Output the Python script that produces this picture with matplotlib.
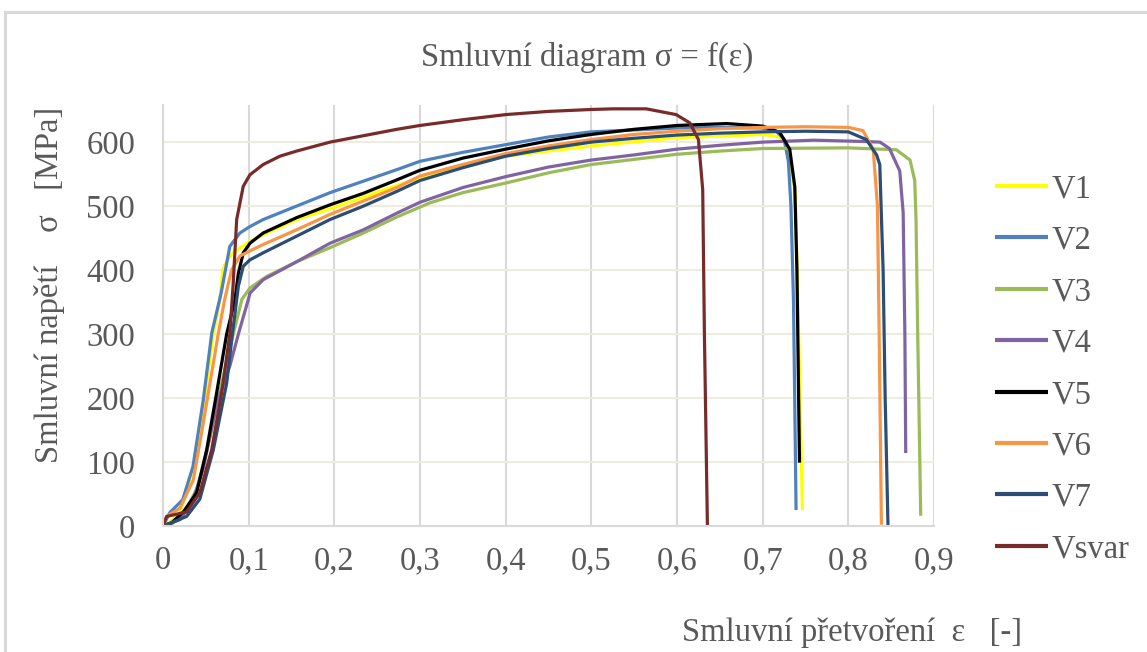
import matplotlib
matplotlib.use("Agg")
import matplotlib.pyplot as plt
from matplotlib.patches import Rectangle
from matplotlib.ticker import FuncFormatter

plt.rcParams['font.family'] = ['Liberation Serif', 'DejaVu Serif']

labels = ["V1", "V2", "V3", "V4", "V5", "V6", "V7", "Vsvar"]
colors = ["#FFFF00", "#4F81BD", "#9BBB59", "#8064A2", "#000000", "#F79646", "#2C4D75", "#772C2A"]

v1_eps = [0, 0.01, 0.02, 0.0354, 0.045, 0.051, 0.0587, 0.0665, 0.0697, 0.076, 0.082, 0.1015, 0.121, 0.156, 0.2, 0.234, 0.25, 0.3, 0.35, 0.4, 0.45, 0.5, 0.6, 0.7, 0.72, 0.73, 0.738, 0.742, 0.7464]
v1_sig = [0, 8, 20, 93, 156, 223, 300, 354, 400, 418, 427, 445, 458, 479, 498, 514, 522, 544, 562, 578, 586, 594, 607, 612, 608, 590, 520, 300, 25]

v2_eps = [0, 0.008, 0.023, 0.035, 0.047, 0.057, 0.068, 0.078, 0.0898, 0.1015, 0.117, 0.156, 0.195, 0.234, 0.273, 0.3, 0.35, 0.4, 0.45, 0.5, 0.55, 0.6, 0.65, 0.7, 0.715, 0.725, 0.73, 0.733, 0.736, 0.739]
v2_sig = [0, 21, 41, 93, 197, 302, 365, 437, 458, 468, 479, 500, 521, 539, 557, 570, 584, 596, 608, 616, 619, 622, 623, 622, 618, 605, 570, 500, 350, 25]

v3_eps = [0, 0.01, 0.025, 0.04, 0.055, 0.068, 0.082, 0.092, 0.1015, 0.121, 0.156, 0.195, 0.234, 0.273, 0.3115, 0.35, 0.4, 0.45, 0.5, 0.55, 0.6, 0.65, 0.7, 0.8, 0.856, 0.872, 0.8775, 0.879, 0.881, 0.8845]
v3_sig = [0, 3, 20, 60, 140, 220, 300, 354, 372, 390, 413, 435, 458, 483, 505, 521, 536, 552, 565, 573, 581, 586, 590, 591, 588, 572, 540, 480, 300, 16]

v4_eps = [0, 0.02, 0.035, 0.047, 0.0626, 0.078, 0.088, 0.0996, 0.1015, 0.117, 0.156, 0.195, 0.234, 0.273, 0.3, 0.35, 0.4, 0.45, 0.5, 0.55, 0.6, 0.65, 0.7, 0.76, 0.817, 0.837, 0.848, 0.86, 0.864, 0.866, 0.867]
v4_sig = [0, 10, 40, 90, 190, 250, 300, 354, 364, 385, 413, 442, 463, 489, 506, 529, 546, 561, 572, 580, 589, 595, 600, 603, 601, 600, 590, 555, 490, 300, 114]

v5_eps = [0, 0.01, 0.0237, 0.0393, 0.051, 0.0626, 0.0743, 0.084, 0.088, 0.0937, 0.1015, 0.117, 0.156, 0.195, 0.234, 0.273, 0.3, 0.35, 0.4, 0.45, 0.5, 0.55, 0.6, 0.658, 0.7, 0.72, 0.7316, 0.7375, 0.740, 0.743]
v5_sig = [0, 5, 22, 52, 119, 208, 300, 354, 395, 427, 442, 458, 482, 502, 520, 541, 556, 575, 589, 602, 612, 620, 626, 629, 625, 615, 589, 530, 400, 99]

v6_eps = [0, 0.0043, 0.0198, 0.0354, 0.045, 0.0548, 0.0645, 0.072, 0.08, 0.0898, 0.1015, 0.117, 0.156, 0.195, 0.234, 0.273, 0.3, 0.35, 0.4, 0.45, 0.5, 0.55, 0.6, 0.65, 0.7, 0.75, 0.8, 0.817, 0.829, 0.834, 0.836, 0.8386]
v6_sig = [0, 15, 28, 72, 145, 223, 300, 354, 400, 422, 430, 440, 463, 487, 508, 529, 547, 565, 582, 594, 604, 612, 617, 621, 623, 624, 623, 618, 589, 500, 300, 2]

v7_eps = [0, 0.006, 0.0276, 0.043, 0.0587, 0.0743, 0.081, 0.088, 0.0937, 0.1015, 0.117, 0.156, 0.195, 0.234, 0.273, 0.3, 0.35, 0.4, 0.45, 0.5, 0.55, 0.6, 0.65, 0.7, 0.75, 0.8, 0.821, 0.833, 0.8367, 0.8406, 0.843, 0.8463]
v7_sig = [0, 3, 15, 42, 119, 223, 300, 375, 406, 416, 427, 453, 479, 500, 523, 540, 560, 578, 590, 600, 606, 611, 614, 616, 617, 616, 604, 580, 565, 400, 200, 0]

vs_eps = [0, 0.0043, 0.0276, 0.043, 0.0568, 0.0685, 0.078, 0.082, 0.086, 0.0937, 0.1015, 0.117, 0.1365, 0.156, 0.195, 0.234, 0.273, 0.3, 0.35, 0.4, 0.45, 0.5, 0.525, 0.564, 0.599, 0.615, 0.625, 0.63, 0.632, 0.6355]
vs_sig = [0, 15, 22, 52, 119, 208, 300, 380, 479, 531, 549, 565, 578, 586, 600, 610, 620, 626, 635, 643, 648, 651, 652, 652, 643, 630, 604, 526, 300, 0]

series_eps = [v1_eps, v2_eps, v3_eps, v4_eps, v5_eps, v6_eps, v7_eps, vs_eps]
series_sig = [v1_sig, v2_sig, v3_sig, v4_sig, v5_sig, v6_sig, v7_sig, vs_sig]

x_ticks = [0, 0.1, 0.2, 0.3, 0.4, 0.5, 0.6, 0.7, 0.8, 0.9]
y_ticks = [0, 100, 200, 300, 400, 500, 600]

W, H = 1147, 652
fig = plt.figure(figsize=(W / 100, H / 100), dpi=100)
fig.patch.set_facecolor("white")

# outer chart border
fig.add_artist(Rectangle((5 / W, -0.1), 1.2, (H - 12) / H + 0.1, transform=fig.transFigure,
                         fill=False, edgecolor="#d9d9d9", linewidth=2.2))

ax = fig.add_axes([163 / W, (H - 526) / H, (934 - 163) / W, (526 - 105) / H])
txt = "#595959"
fs = 23.5

for e, s, c, l in zip(series_eps, series_sig, colors, labels):
    ax.plot(e, s, color=c, linewidth=2.3, label=l, solid_joinstyle="round", solid_capstyle="butt")

ax.set_xlim(0, 0.9)
ax.set_ylim(0, 658)
ax.set_xticks(x_ticks)
ax.set_yticks(y_ticks)
ax.xaxis.set_major_formatter(FuncFormatter(lambda v, p: "0" if abs(v) < 1e-9 else ("%g" % round(v, 1)).replace(".", ",")))
ax.tick_params(axis="both", length=0, labelsize=fs, colors=txt)
ax.tick_params(axis="x", pad=14)
ax.tick_params(axis="y", pad=20)

for x in x_ticks[1:]:
    ax.axvline(x, color="#d9d9d9", linewidth=1.5, zorder=0)
for y in y_ticks[1:]:
    ax.axhline(y, color="#eeece1", linewidth=1.5, zorder=0)

for sp in ["top", "right"]:
    ax.spines[sp].set_visible(False)
for sp in ["left", "bottom"]:
    ax.spines[sp].set_color("#d9d9d9")
    ax.spines[sp].set_linewidth(1.5)

fig.text(587 / W, 1 - 57 / H, "Smluvní diagram σ = f(ε)", ha="center", va="center", fontsize=fs, color=txt)
fig.text(1022 / W, 1 - 633 / H, "Smluvní přetvoření  ε   [-]", ha="right", va="center", fontsize=fs, color=txt)
fig.text(50 / W, 1 - 285 / H, "Smluvní napětí    σ   [MPa]", ha="center", va="center", rotation=90, fontsize=fs, color=txt)

leg = fig.legend(loc="upper left", bbox_to_anchor=(995 / W, 1 - 174 / H), frameon=False,
                 fontsize=fs, handlelength=1.63, handletextpad=0.12, labelspacing=0.64,
                 labelcolor=txt, borderaxespad=0, borderpad=0)
for line in leg.get_lines():
    line.set_linewidth(3)

fig.savefig("out.png", dpi=100)
